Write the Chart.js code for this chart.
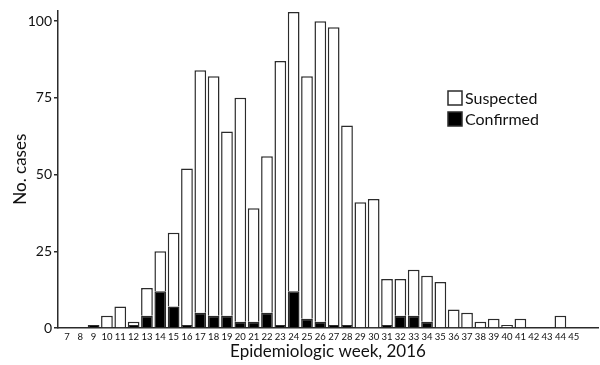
<!DOCTYPE html>
<html>
<head>
<meta charset="utf-8">
<script src="https://cdn.jsdelivr.net/npm/chart.js@4.4.0/dist/chart.umd.min.js"></script>
<style>
  html, body { margin: 0; padding: 0; background: #fff; }
  #wrap { width: 600px; height: 365px; position: relative; }
</style>
</head>
<body>
<div id="wrap"><canvas id="epi"></canvas></div>
<script>
// epidemiologic weeks of 2016
const weeks = [7, 8, 9, 10, 11, 12, 13, 14, 15, 16, 17, 18, 19, 20, 21, 22, 23, 24, 25, 26,
  27, 28, 29, 30, 31, 32, 33, 34, 35, 36, 37, 38, 39, 40, 41, 42, 43, 44, 45];
// confirmed cases (black, bottom of each bar)
const confirmed = [0, 0, 1, 0, 0, 1, 4, 12, 7, 1, 5, 4, 4, 2, 2, 5, 1, 12, 3, 2,
  1, 1, 0, 0, 1, 4, 4, 2, 0, 0, 0, 0, 0, 0, 0, 0, 0, 0, 0];
// suspected cases (white, stacked on top)
const suspected = [0, 0, 0, 4, 7, 1, 9, 13, 24, 51, 79, 78, 60, 73, 37, 51, 86, 91, 79, 98,
  97, 65, 41, 42, 15, 12, 15, 15, 15, 6, 5, 2, 3, 1, 3, 0, 0, 4, 0];
const yTicks = [0, 25, 50, 75, 100];

const font = "Lato, 'Open Sans', sans-serif";
const ink = '#2b2b2b';

function toPoints(vals) {
  return weeks.map((w, i) => ({ x: w, y: vals[i] }));
}

// little legend drawn inside the plot, like the original figure
const boxLegend = {
  id: 'boxLegend',
  afterDraw(chart) {
    const ctx = chart.ctx;
    const items = [
      { label: 'Suspected', fill: '#ffffff' },
      { label: 'Confirmed', fill: '#000000' }
    ];
    ctx.save();
    ctx.font = '16px ' + font;
    ctx.textBaseline = 'middle';
    items.forEach((it, i) => {
      const y = 91 + i * 21;
      ctx.fillStyle = it.fill;
      ctx.fillRect(448, y, 14, 14);
      ctx.strokeStyle = ink;
      ctx.lineWidth = 1.5;
      ctx.strokeRect(448, y, 14, 14);
      ctx.fillStyle = '#111';
      ctx.fillText(it.label, 465, y + 7.5);
    });
    ctx.restore();
  }
};

new Chart(document.getElementById('epi'), {
  type: 'bar',
  data: {
    datasets: [
      {
        label: 'Confirmed',
        data: toPoints(confirmed),
        backgroundColor: '#000',
        borderColor: ink,
        borderWidth: 1.5
      },
      {
        label: 'Suspected',
        data: toPoints(suspected),
        backgroundColor: '#fff',
        borderColor: ink,
        borderWidth: 1.5
      }
    ]
  },
  options: {
    responsive: true,
    maintainAspectRatio: false,
    animation: false,
    layout: { padding: { top: 4, right: 2, left: 0, bottom: 0 } },
    datasets: { bar: { barPercentage: 0.88, categoryPercentage: 1 } },
    plugins: {
      legend: { display: false },
      tooltip: { enabled: false }
    },
    scales: {
      x: {
        type: 'linear',
        stacked: true,
        min: 6.85,
        max: 46.3,
        afterBuildTicks: (s) => { s.ticks = weeks.map(v => ({ value: v })); },
        afterFit: (s) => { s.height = 37; },
        grid: { display: false, drawTicks: false },
        border: { color: ink, width: 1.5 },
        ticks: {
          autoSkip: false,
          maxRotation: 0,
          padding: 3,
          color: '#111',
          font: { family: font, size: 9.5 }
        },
        title: {
          display: true,
          text: 'Epidemiologic week, 2016',
          color: '#111',
          font: { family: font, size: 17 },
          padding: { top: 0, bottom: 3 }
        }
      },
      y: {
        stacked: true,
        min: 0,
        max: 103.5,
        afterBuildTicks: (s) => { s.ticks = yTicks.map(v => ({ value: v })); },
        afterFit: (s) => { s.width = 58; },
        grid: { drawOnChartArea: false, drawTicks: true, tickLength: 4, color: ink, lineWidth: 1.5 },
        border: { color: ink, width: 1.5 },
        ticks: {
          padding: 2,
          color: '#111',
          font: { family: font, size: 14 }
        },
        title: {
          display: true,
          text: 'No. cases',
          color: '#111',
          font: { family: font, size: 17 },
          padding: { top: 10, bottom: 4 }
        }
      }
    }
  },
  plugins: [boxLegend]
});
</script>
</body>
</html>
